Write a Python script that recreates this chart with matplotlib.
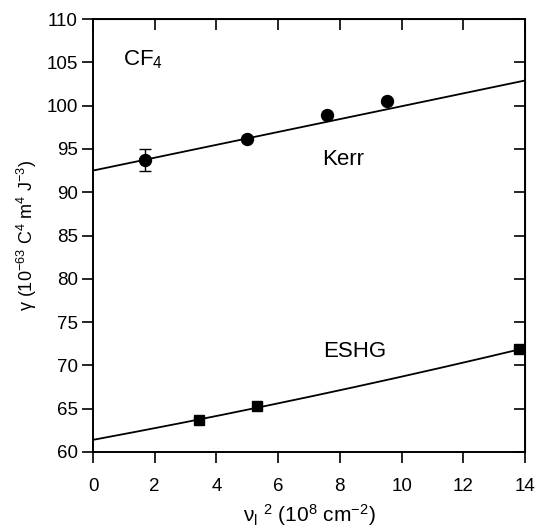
import numpy as np
import matplotlib
matplotlib.use("Agg")
import matplotlib.pyplot as plt

plt.rcParams['font.family'] = ['Liberation Sans', 'DejaVu Sans']
plt.rcParams['mathtext.fontset'] = 'custom'
plt.rcParams['mathtext.rm'] = 'Liberation Sans'
plt.rcParams['mathtext.it'] = 'Liberation Sans'
plt.rcParams['mathtext.bf'] = 'Liberation Sans:bold'

# Kerr measurements (nu_l^2 in 1e8 cm^-2, gamma in 1e-63 C^4 m^4 J^-3)
kerr_x = [1.70, 4.99, 7.57, 9.54]
kerr_y = [93.76, 96.19, 98.9, 100.54]
kerr_err = [1.27, 0.0, 0.0, 0.0]
kerr_fit = [92.5, 0.743]            # intercept, slope

# ESHG measurements
eshg_x = [3.44, 5.30, 13.82]
eshg_y = [63.72, 65.36, 71.9]
eshg_fit = [61.4, 0.662, 0.0068]    # a + b x + c x^2

fig = plt.figure(figsize=(5.37, 5.29), dpi=100)
ax = fig.add_axes([0.1732, 0.1456, 0.9777 - 0.1732, 0.964 - 0.1456])

xx = np.linspace(0, 14, 200)
ax.plot(xx, kerr_fit[0] + kerr_fit[1] * xx, color='black', lw=1.3)
ax.plot(xx, eshg_fit[0] + eshg_fit[1] * xx + eshg_fit[2] * xx**2, color='black', lw=1.3)

ax.errorbar(kerr_x[:1], kerr_y[:1], yerr=kerr_err[:1], fmt='none', ecolor='black',
            elinewidth=1.0, capsize=4, capthick=1.0)
ax.plot(kerr_x, kerr_y, 'o', color='black', markersize=8.6, clip_on=False)
ax.plot(eshg_x, eshg_y, 's', color='black', markersize=7.8, clip_on=False)

ax.set_xlim(0, 14)
ax.set_ylim(60, 110)
ax.set_xticks(np.arange(0, 15, 2))
ax.set_yticks(np.arange(60, 111, 5))

for s in ax.spines.values():
    s.set_linewidth(1.4)

ax.tick_params(axis='both', which='both', labelsize=13.5, width=1.2, length=8, colors='black')
ax.tick_params(axis='x', direction='out', top=False, pad=11)
ax.tick_params(axis='y', direction='out', right=False, pad=3)

# inward ticks on top and right
axt = ax.secondary_xaxis('top')
axt.set_xticks(np.arange(0, 15, 2))
axt.tick_params(direction='in', length=8, width=1.2, labeltop=False)
axr = ax.secondary_yaxis('right')
axr.set_yticks(np.arange(60, 111, 5))
axr.tick_params(direction='in', length=8, width=1.2, labelright=False)

ax.text(0.97, 105.3, r'CF$_4$', fontsize=16, va='center', ha='left')
ax.text(7.41, 93.8, 'Kerr', fontsize=16, va='center', ha='left')
ax.text(7.45, 71.6, 'ESHG', fontsize=16, va='center', ha='left')

ax.set_xlabel(r'ν$_\mathrm{l}$ $^2$ (10$^8$ cm$^{-2}$)', fontsize=15, labelpad=5)
ax.set_ylabel(r'γ (10$^{-63}$ C$^4$ m$^4$ J$^{-3}$)', fontsize=13, labelpad=5)

fig.savefig('out.png', dpi=100)
